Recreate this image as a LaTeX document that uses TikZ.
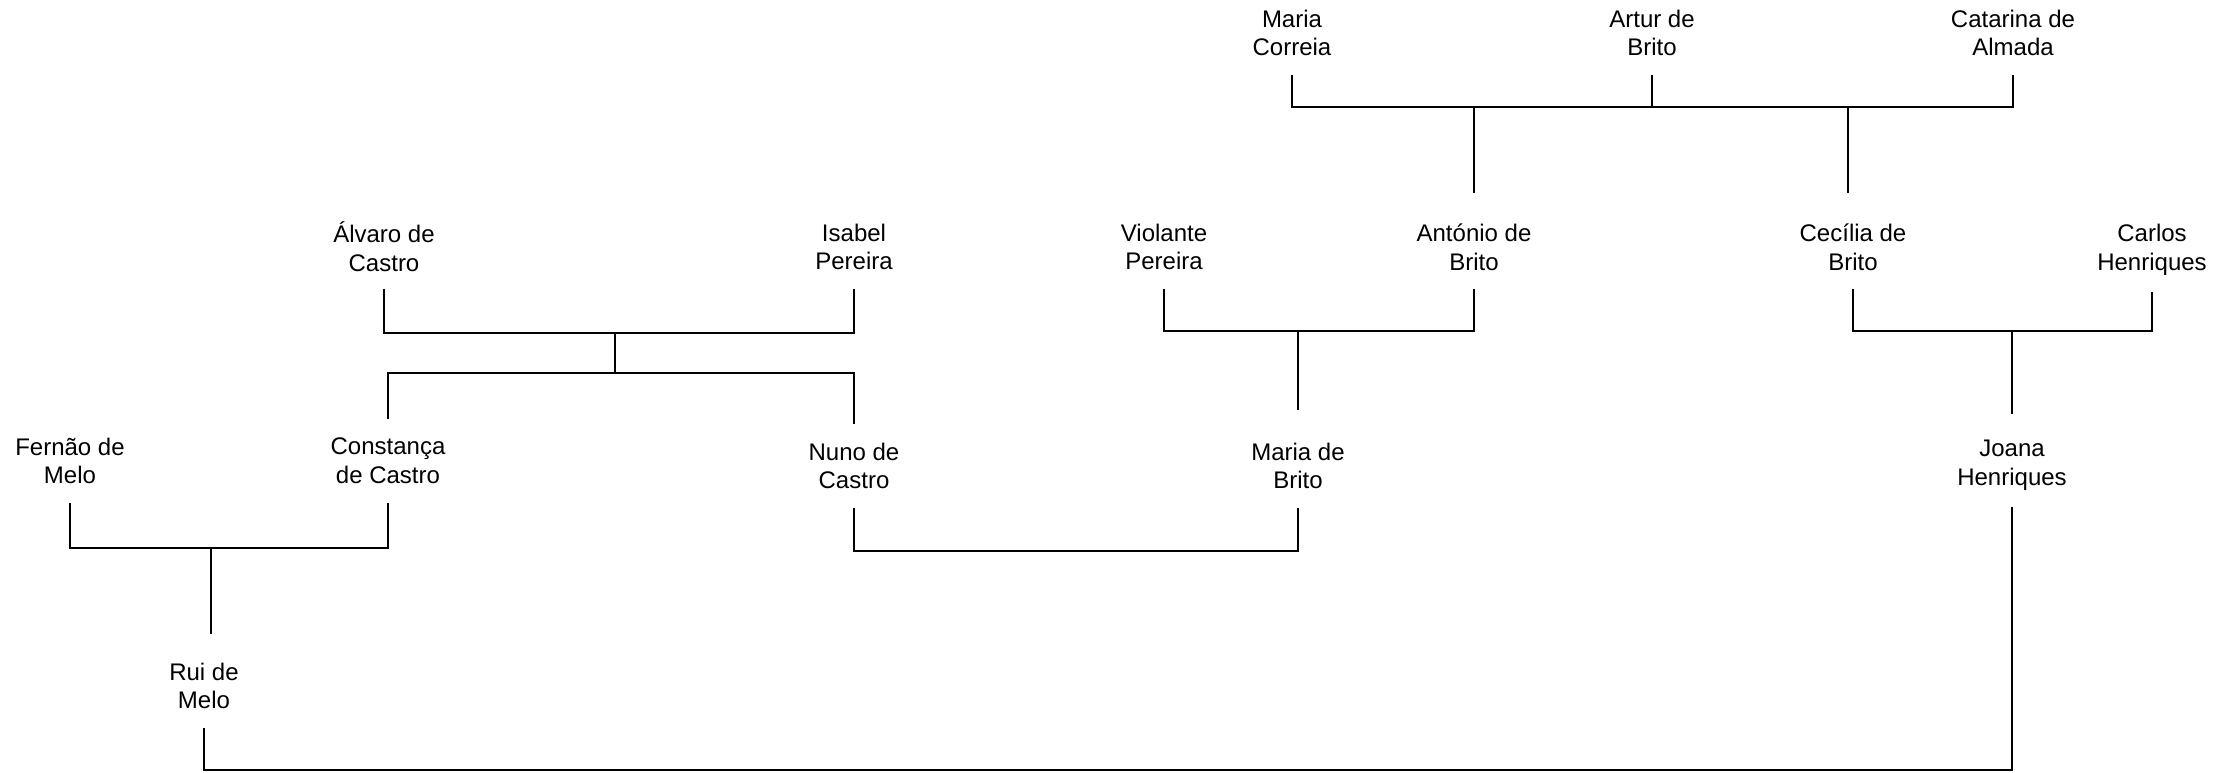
\documentclass[tikz,border=0pt]{standalone}
\usepackage{fontspec}
\setmainfont{Liberation Sans}
\usetikzlibrary{positioning, calc}
\tikzset{
    familytree/.style={x=1pt, y=1pt, line width=1.1pt},
    person/.style={align=center, inner sep=0pt, minimum height=82pt, font={\fontsize{24}{28.6}\selectfont}},
    bar/.style={coordinate},
}

\begin{document}
\begin{tikzpicture}[familytree]
        \useasboundingbox (0,0) rectangle (2239,-772);

        % top generation
        \node[person] (mcorreia)   at (1292,-33)  {Maria\\Correia};
        \node[person] (abrito)     at (1652,-33)  {Artur de\\Brito};
        \node[person] (calmada)    at (2013,-33)  {Catarina de\\Almada};

        \node[person] (acastro)    at (384,-247)  {Álvaro de\\Castro};
        \node[person] (ipereira)   at (854,-247)  {Isabel\\Pereira};
        \node[person] (vpereira)   at (1164,-247) {Violante\\Pereira};
        \node[person] (antonio)    at (1474,-247) {António de\\Brito};
        \node[person] (cecilia)    at (1853,-247) {Cecília de\\Brito};
        \node[person] (chenriques) at (2152,-250) {Carlos\\Henriques};

        \node[person] (fmelo)      at (70,-461)   {Fernão de\\Melo};
        \node[person] (constanca)  at (388,-461)  {Constança\\de Castro};
        \node[person] (nuno)       at (854,-466)  {Nuno de\\Castro};
        \node[person] (mbrito)     at (1298,-466) {Maria de\\Brito};
        \node[person] (joana)      at (2012,-465) {Joana\\Henriques};

        \node[person] (rui)        at (204,-686)  {Rui de\\Melo};

        \coordinate[bar] (b1) at (1848,-107);
        \coordinate[bar] (b2) at (0,-333);
        \coordinate[bar] (b3) at (615,-373);
        \coordinate[bar] (b4) at (0,-331);
        \coordinate[bar] (b5) at (211,-548);
        \coordinate[bar] (b6) at (0,-551);
        \coordinate[bar] (b7) at (0,-770);

        % Brito
        \draw (mcorreia.south) |- (calmada.south |- b1) -- (calmada.south);
        \draw (abrito.south) -- (abrito.south |- b1);
        \draw[shorten >=12pt] (antonio |- b1) -- (antonio.north);
        \draw[shorten >=12pt] (b1) -- (b1 |- cecilia.north);

        % Castro
        \draw (acastro.south) |- (ipereira.south |- b2) -- (ipereira.south);
        \draw (b3 |- b2) -- (b3);
        \draw (constanca.north) |- (b3) -| (nuno.north);

        \draw (vpereira.south) |- (antonio.south |- b4) -- (antonio.south);
        \draw[shorten >=14pt] (mbrito |- b4) -- (mbrito.north);

        \draw (cecilia.south) |- (chenriques.south |- b4) -- (chenriques.south);
        \draw[shorten >=9pt] (joana |- b4) -- (joana.north);

        % Melo
        \draw (fmelo.south) |- (constanca.south |- b5) -- (constanca.south);
        \draw[shorten >=10pt] (b5) -- (b5 |- rui.north);
        \draw (nuno.south) |- (mbrito.south |- b6) -- (mbrito.south);
        \draw (rui.south) |- (joana.south |- b7) -- (joana.south);
    \end{tikzpicture}
\end{document}
